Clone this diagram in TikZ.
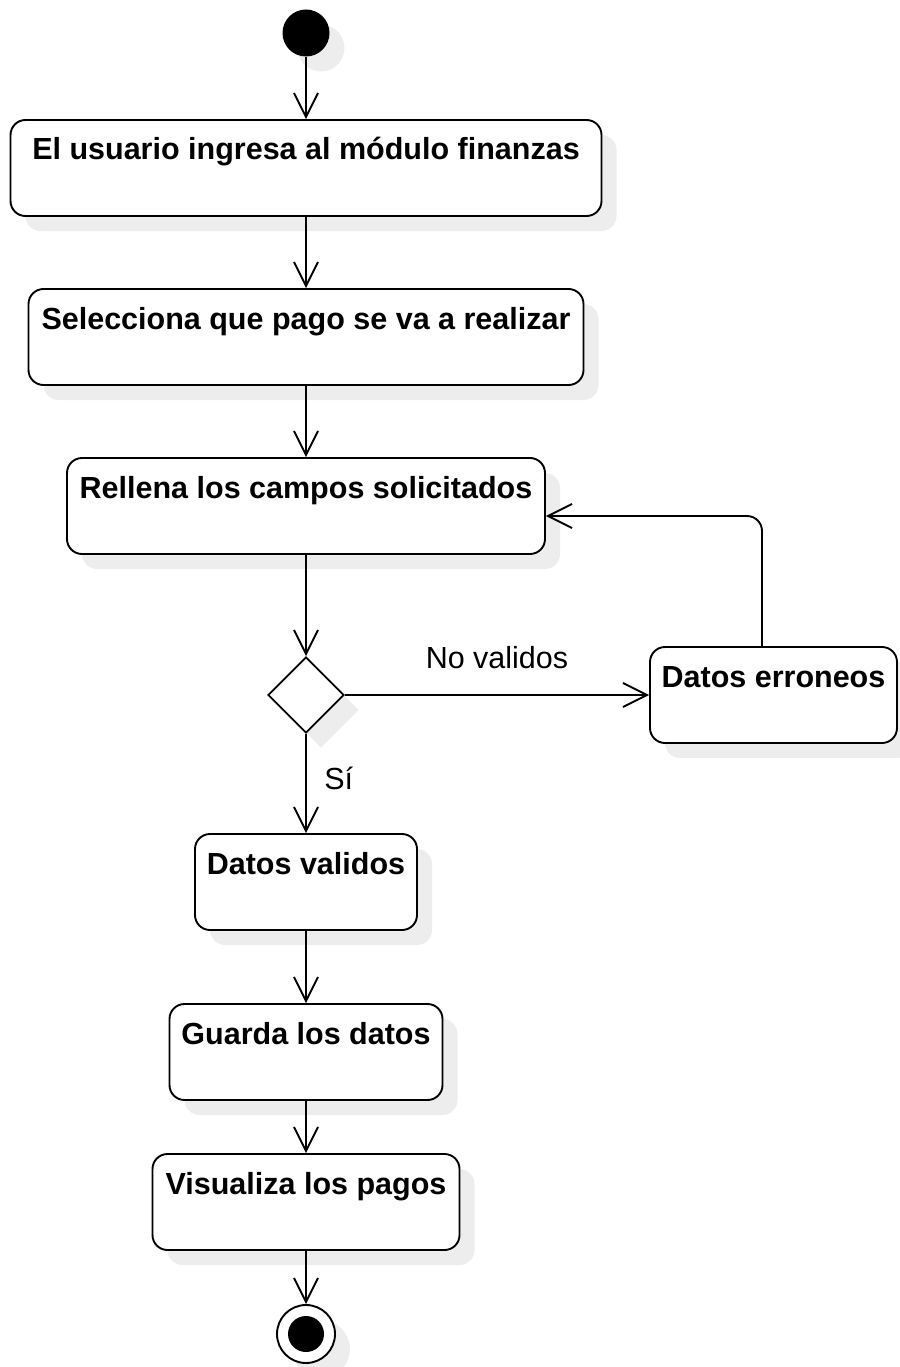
\documentclass[tikz,border=0pt]{standalone}
\usepackage{fontspec}
\setmainfont{Liberation Sans}
\usetikzlibrary{positioning,arrows.meta,shapes.geometric,shadows}

\begin{document}
\begin{tikzpicture}[x=1pt, y=-1pt,
  every node/.style={font=\fontsize{30.5}{34}\selectfont},
  sombra/.style={drop shadow={shadow xshift=15pt, shadow yshift=-15pt, fill=black!7, opacity=1}},
  act/.style={rectangle, draw, line width=1.9pt, fill=white, rounded corners=15pt,
              inner xsep=0pt, inner ysep=0pt, text height=40pt, text depth=56pt,
              font=\fontsize{30.5}{34}\selectfont\bfseries, sombra},
  flow/.style={line width=1.9pt, -{Straight Barb[length=24pt,width=24pt]}}
]
  \useasboundingbox (0,0) rectangle (899,1367);

  \node[circle, fill=black, minimum size=47pt, inner sep=0pt, sombra] (inicio) at (306,33) {};
  \node[act, minimum width=591pt] (ingresa)    at (306,168)  {El usuario ingresa al módulo finanzas};
  \node[act, minimum width=555pt] (selecciona) at (306,337)  {Selecciona que pago se va a realizar};
  \node[act, minimum width=478pt] (rellena)    at (306,506)  {Rellena los campos solicitados};
  \node[diamond, draw, line width=1.9pt, fill=white, minimum size=76pt, inner sep=0pt, sombra] (decision) at (306,695) {};
  \node[act, minimum width=247pt] (erroneos)   at (773.5,695) {Datos erroneos};
  \node[act, minimum width=222pt] (validos)    at (306,882)  {Datos validos};
  \node[act, minimum width=273pt] (guarda)     at (306,1052) {Guarda los datos};
  \node[act, minimum width=307pt] (visualiza)  at (306,1202) {Visualiza los pagos};
  \node[circle, draw, line width=1.9pt, fill=white, minimum size=58pt, inner sep=0pt, sombra] (fin) at (306,1334) {};
  \node[circle, fill=black, minimum size=36pt, inner sep=0pt] (finpunto) at (fin) {};
  \coordinate (vuelta) at (762,516);

  \draw[flow] (inicio) -- (ingresa);
  \draw[flow] (ingresa) -- (selecciona);
  \draw[flow] (selecciona) -- (rellena);
  \draw[flow] (rellena) -- (decision);
  \draw[flow] (decision) -- node[above=22pt] (novalidos) {No validos} (erroneos);
  \draw[flow, rounded corners=15pt] (erroneos.north -| vuelta) |- (rellena.east |- vuelta);
  \draw[flow] (decision) -- node[right=14pt, pos=0.45] (si) {Sí} (validos);
  \draw[flow] (validos) -- (guarda);
  \draw[flow] (guarda) -- (visualiza);
  \draw[flow] (visualiza) -- (fin);
\end{tikzpicture}
\end{document}
